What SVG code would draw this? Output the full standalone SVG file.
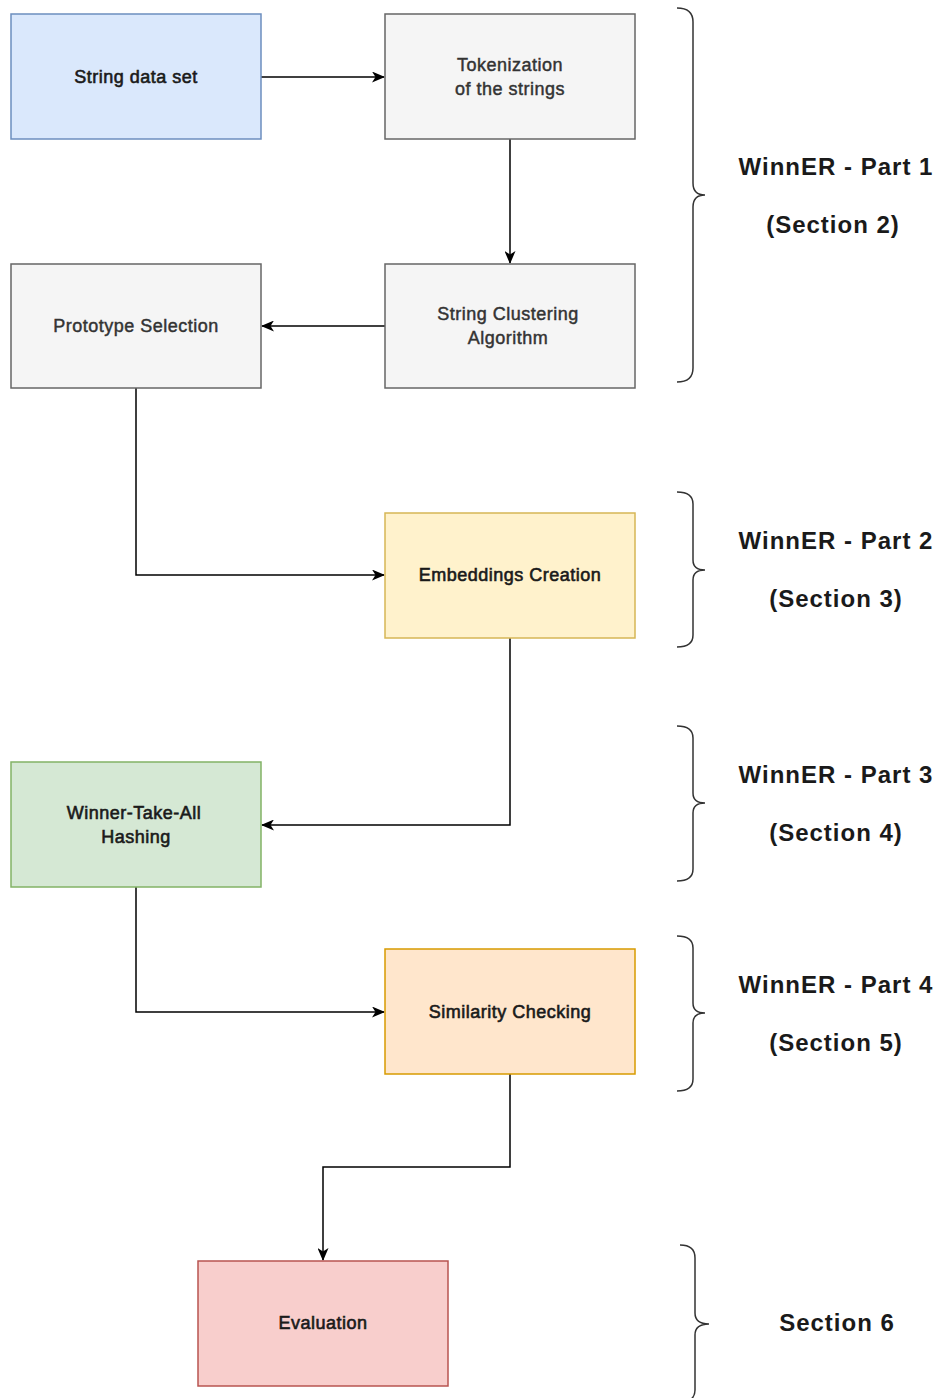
<svg xmlns="http://www.w3.org/2000/svg" width="942" height="1398" viewBox="0 0 942 1398">
<defs>
<style>
.box{stroke-width:1.5}
.gray{fill:#f5f5f5;stroke:#666666}
.lbl{font-family:"Liberation Sans",Arial,sans-serif;font-size:18px;text-anchor:middle;fill:#333333;stroke:#333333;stroke-width:0.45px;letter-spacing:0.5px}
.dark{fill:#1a1a1a;stroke:#1a1a1a;stroke-width:0.6px}
.edge{fill:none;stroke:#000;stroke-width:1.5;marker-end:url(#arr)}
.brace{fill:none;stroke:#333;stroke-width:1.5}
.side{font-family:"Liberation Sans",Arial,sans-serif;font-size:24px;font-weight:bold;text-anchor:middle;fill:#1a1a1a;letter-spacing:1px}
</style>
<marker id="arr" viewBox="0 0 13 11" refX="12" refY="5.5" markerWidth="13" markerHeight="11" markerUnits="userSpaceOnUse" orient="auto">
<path d="M0,0 L13,5.5 L0,11 L3.5,5.5 Z" fill="#000"/>
</marker>
</defs>
<g id="connectors">
<path class="edge" d="M261,77 L384,77"/>
<path class="edge" d="M510,139 L510,263"/>
<path class="edge" d="M385,326 L262,326"/>
<path class="edge" d="M136,388 L136,575 L384,575"/>
<path class="edge" d="M510,638 L510,825 L262,825"/>
<path class="edge" d="M136,887 L136,1012 L384,1012"/>
<path class="edge" d="M510,1074 L510,1167 L323,1167 L323,1260"/>
</g>
<g id="n-string">
<rect class="box" x="11" y="14" width="250" height="125" fill="#dae8fc" stroke="#6c8ebf"/>
<text class="lbl dark" x="136" y="83">String data set</text>
</g>
<g id="n-token">
<rect class="box gray" x="385" y="14" width="250" height="125"/>
<text class="lbl" x="510" y="71">Tokenization</text>
<text class="lbl" x="510" y="95">of the strings</text>
</g>
<g id="n-cluster">
<rect class="box gray" x="385" y="264" width="250" height="124"/>
<text class="lbl" x="508" y="320">String Clustering</text>
<text class="lbl" x="508" y="344">Algorithm</text>
</g>
<g id="n-proto">
<rect class="box gray" x="11" y="264" width="250" height="124"/>
<text class="lbl" x="136" y="332">Prototype Selection</text>
</g>
<g id="n-embed">
<rect class="box" x="385" y="513" width="250" height="125" fill="#fff2cc" stroke="#d6b656"/>
<text class="lbl dark" x="510" y="581">Embeddings Creation</text>
</g>
<g id="n-wta">
<rect class="box" x="11" y="762" width="250" height="125" fill="#d5e8d4" stroke="#82b366"/>
<text class="lbl dark" x="134" y="819">Winner-Take-All</text>
<text class="lbl dark" x="136" y="843">Hashing</text>
</g>
<g id="n-sim">
<rect class="box" x="385" y="949" width="250" height="125" fill="#ffe6cc" stroke="#d79b00"/>
<text class="lbl dark" x="510" y="1018">Similarity Checking</text>
</g>
<g id="n-eval">
<rect class="box" x="198" y="1261" width="250" height="125" fill="#f8cecc" stroke="#b85450"/>
<text class="lbl dark" x="323" y="1329">Evaluation</text>
</g>
<g id="part1">
<path class="brace" d="M677,8 Q693,8 693,22 L693,183 Q693,195 705,195 Q693,195 693,207 L693,368 Q693,382 677,382"/>
<text class="side" x="836" y="175">WinnER - Part 1</text>
<text class="side" x="833" y="233">(Section 2)</text>
</g>
<g id="part2">
<path class="brace" d="M677,492 Q693,492 693,504 L693,560 Q693,570 705,570 Q693,570 693,580 L693,635 Q693,647 677,647"/>
<text class="side" x="836" y="549">WinnER - Part 2</text>
<text class="side" x="836" y="607">(Section 3)</text>
</g>
<g id="part3">
<path class="brace" d="M677,726 Q693,726 693,738 L693,793 Q693,803 705,803 Q693,803 693,813 L693,869 Q693,881 677,881"/>
<text class="side" x="836" y="783">WinnER - Part 3</text>
<text class="side" x="836" y="841">(Section 4)</text>
</g>
<g id="part4">
<path class="brace" d="M677,936 Q693,936 693,948 L693,1003 Q693,1013 705,1013 Q693,1013 693,1023 L693,1079 Q693,1091 677,1091"/>
<text class="side" x="836" y="993">WinnER - Part 4</text>
<text class="side" x="836" y="1051">(Section 5)</text>
</g>
<g id="part5">
<path class="brace" d="M680,1245 Q695,1245 695,1258 L695,1313 Q695,1324 709,1324 Q695,1324 695,1335 L695,1390 Q695,1402 680,1402"/>
<text class="side" x="837" y="1331">Section 6</text>
</g>
</svg>
